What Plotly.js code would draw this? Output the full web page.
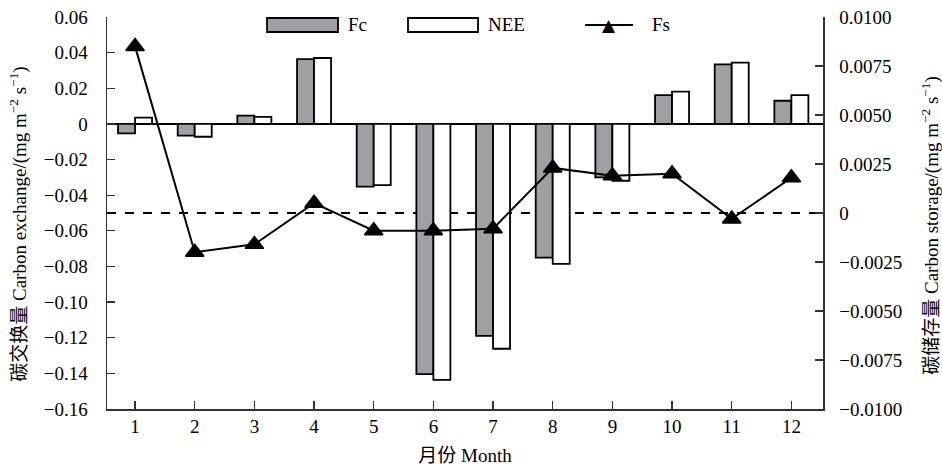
<!DOCTYPE html>
<html>
<head>
<meta charset="utf-8">
<script src="https://cdn.plot.ly/plotly-3.0.1.min.js"></script>
<style>html,body{margin:0;padding:0;background:#fff;}#chart{width:942px;height:472px;}</style>
</head>
<body>
<div id="chart"></div>
<script>
// Data
var months = [1, 2, 3, 4, 5, 6, 7, 8, 9, 10, 11, 12];
var fcValues = [-0.0053, -0.0066, 0.0047, 0.0364, -0.0352, -0.1404, -0.1190, -0.0751, -0.0300, 0.0162, 0.0334, 0.0130];
var neeValues = [0.0035, -0.0072, 0.0040, 0.0370, -0.0343, -0.1437, -0.1262, -0.0786, -0.0319, 0.0181, 0.0344, 0.0162];
var fsValues = [0.0085, -0.0020, -0.0016, 0.0005, -0.0009, -0.0009, -0.0008, 0.0023, 0.0019, 0.0020, -0.0003, 0.0018];

var leftTickVals = [0.06, 0.04, 0.02, 0, -0.02, -0.04, -0.06, -0.08, -0.10, -0.12, -0.14, -0.16];
var leftTickText = ["0.06", "0.04", "0.02", "0", "\u22120.02", "\u22120.04", "\u22120.06", "\u22120.08", "\u22120.10", "\u22120.12", "\u22120.14", "\u22120.16"];
var rightTickVals = [0.01, 0.0075, 0.005, 0.0025, 0, -0.0025, -0.005, -0.0075, -0.01];
var rightTickText = ["0.0100", "0.0075", "0.0050", "0.0025", "0", "\u22120.0025", "\u22120.0050", "\u22120.0075", "\u22120.0100"];
var monthLabels = ["1", "2", "3", "4", "5", "6", "7", "8", "9", "10", "11", "12"];

var FONT = "Liberation Serif, Times New Roman, Noto Sans CJK SC, serif";
var FS = 19;

var traces = [
  {
    type: "bar", name: "Fc", x: months, y: fcValues,
    marker: {color: "#a0a0a4", line: {color: "#000", width: 1.8}},
    showlegend: false, hoverinfo: "x+y"
  },
  {
    type: "bar", name: "NEE", x: months, y: neeValues,
    marker: {color: "#ffffff", line: {color: "#000", width: 1.8}},
    showlegend: false, hoverinfo: "x+y"
  },
  {
    type: "scatter", mode: "lines+markers", name: "Fs", x: months, y: fsValues, yaxis: "y2",
    line: {color: "#000", width: 2},
    marker: {symbol: "triangle-up", size: 16, color: "#000", line: {color: "#000", width: 1.5}},
    showlegend: false, cliponaxis: false
  }
];

var layout = {
  width: 942, height: 472,
  margin: {l: 107, r: 119, t: 17, b: 63},
  paper_bgcolor: "#fff", plot_bgcolor: "#fff",
  font: {family: FONT, size: FS, color: "#000"},
  barmode: "group", bargap: 0.43, bargroupgap: 0,
  showlegend: false,
  xaxis: {
    range: [0.53, 12.53], tickvals: months, ticktext: monthLabels,
    showgrid: false, zeroline: false, showline: true, linecolor: "#333", linewidth: 1.5,
    ticks: "inside", ticklen: 8, tickwidth: 1.2, tickcolor: "#333",
    ticklabelstandoff: 0,
    tickfont: {family: FONT, size: FS},
    title: {text: "月份 Month", font: {family: FONT, size: FS}, standoff: 12}
  },
  yaxis: {
    range: [-0.16, 0.06], tickvals: leftTickVals, ticktext: leftTickText,
    showgrid: false, zeroline: true, zerolinecolor: "#000", zerolinewidth: 2,
    showline: true, linecolor: "#333", linewidth: 1.5,
    ticks: "inside", ticklen: 8, tickwidth: 1.2, tickcolor: "#333",
    ticklabelstandoff: 14,
    tickfont: {family: FONT, size: FS}
  },
  yaxis2: {
    overlaying: "y", side: "right",
    range: [-0.01, 0.01], tickvals: rightTickVals, ticktext: rightTickText,
    showgrid: false, zeroline: false,
    showline: true, linecolor: "#333", linewidth: 1.5,
    ticks: "inside", ticklen: 8, tickwidth: 1.2, tickcolor: "#333",
    ticklabelstandoff: 11,
    tickfont: {family: FONT, size: FS}
  },
  shapes: [
    {type: "line", xref: "paper", x0: 0, x1: 1, yref: "y2", y0: 0, y1: 0,
     line: {color: "#000", width: 2, dash: "dash"}, layer: "below"},
    // legend glyphs
    {type: "rect", xref: "paper", yref: "paper", x0: 0.2235, x1: 0.3226, y0: 0.9617, y1: 0.9974,
     fillcolor: "#a0a0a4", line: {color: "#000", width: 1.8}},
    {type: "rect", xref: "paper", yref: "paper", x0: 0.4204, x1: 0.5182, y0: 0.9617, y1: 0.9974,
     fillcolor: "#ffffff", line: {color: "#000", width: 1.8}},
    {type: "line", xref: "paper", yref: "paper", x0: 0.6676, x1: 0.7346, y0: 0.9796, y1: 0.9796,
     line: {color: "#000", width: 2}}
  ],
  annotations: [
    {xref: "paper", yref: "paper", x: -0.1229, y: 0.47, xanchor: "center", yanchor: "middle", textangle: -90,
     text: "碳交换量 Carbon exchange/(mg m<sup>\u22122</sup> s<sup>\u22121</sup>)", showarrow: false,
     font: {family: FONT, size: FS}},
    {xref: "paper", yref: "paper", x: 1.1508, y: 0.47, xanchor: "center", yanchor: "middle", textangle: -90,
     text: "碳储存量 Carbon storage/(mg m<sup>\u22122</sup> s<sup>\u22121</sup>)", showarrow: false,
     font: {family: FONT, size: FS}},
    {xref: "paper", yref: "paper", x: 0.3338, y: 0.9796, xanchor: "left", yanchor: "middle",
     text: "Fc", showarrow: false, font: {family: FONT, size: FS}},
    {xref: "paper", yref: "paper", x: 0.5293, y: 0.9796, xanchor: "left", yanchor: "middle",
     text: "NEE", showarrow: false, font: {family: FONT, size: FS}},
    {xref: "paper", yref: "paper", x: 0.7011, y: 0.9796, xanchor: "center", yanchor: "middle",
     text: "\u25B2", showarrow: false, font: {family: "DejaVu Sans", size: 17, color: "#000"}},
    {xref: "paper", yref: "paper", x: 0.7584, y: 0.9796, xanchor: "left", yanchor: "middle",
     text: "Fs", showarrow: false, font: {family: FONT, size: FS}}
  ]
};

Plotly.newPlot("chart", traces, layout, {displayModeBar: false, staticPlot: true});
</script>
</body>
</html>
